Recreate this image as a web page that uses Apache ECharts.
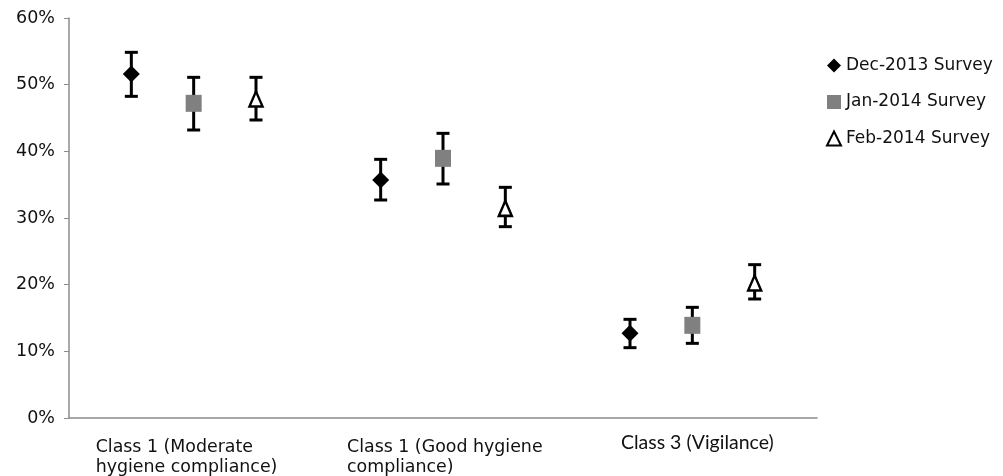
<!DOCTYPE html>
<html>
<head>
<meta charset="utf-8">
<script src="https://cdn.jsdelivr.net/npm/echarts@6/dist/echarts.min.js"></script>
<style>html,body{margin:0;padding:0;background:#fff;}#c{width:1003px;height:476px;}</style>
</head>
<body>
<div id="c"></div>
<script>
var categories = ['Class 1 (Moderate\nhygiene compliance)', 'Class 1 (Good hygiene\ncompliance)', 'Class 3 (Vigilance)'];
var seriesNames = ['Dec-2013 Survey', 'Jan-2014 Survey', 'Feb-2014 Survey'];
var decMean = [51.6, 35.7, 12.7];
var decLow  = [48.25, 32.7, 10.55];
var decHigh = [54.85, 38.8, 14.8];
var janMean = [47.2, 38.95, 13.9];
var janLow  = [43.2, 35.1, 11.2];
var janHigh = [51.1, 42.7, 16.6];
var febMean = [47.85, 31.45, 20.25];
var febLow  = [44.7, 28.7, 17.85];
var febHigh = [51.1, 34.6, 23.0];
var yTicks = [0, 10, 20, 30, 40, 50, 60];

var offsets = [-0.25, 0, 0.25];
function pts(mean, k) { return mean.map(function (v, i) { return [i + 0.5 + offsets[k], v]; }); }
function bars(lo, hi, k) { return lo.map(function (v, i) { return [i + 0.5 + offsets[k], v, hi[i]]; }); }

function renderErr(params, api) {
  var x = api.value(0), lo = api.value(1), hi = api.value(2);
  var a = api.coord([x, hi]), b = api.coord([x, lo]);
  var w = 6.5;
  var st = { stroke: '#000', lineWidth: 3 };
  return { type: 'group', children: [
    { type: 'line', shape: { x1: a[0], y1: a[1], x2: b[0], y2: b[1] }, style: st },
    { type: 'line', shape: { x1: a[0] - w, y1: a[1], x2: a[0] + w, y2: a[1] }, style: st },
    { type: 'line', shape: { x1: b[0] - w, y1: b[1], x2: b[0] + w, y2: b[1] }, style: st }
  ]};
}

var font = 'DejaVu Sans';
var chart = echarts.init(document.getElementById('c'));
chart.setOption({
  animation: false,
  grid: { left: 69, right: 186, top: 18, bottom: 58 },
  legend: {
    orient: 'vertical', left: 821, top: 52, itemWidth: 14, itemHeight: 14, itemGap: 19.5,
    textStyle: { fontFamily: font, fontSize: 17, color: '#111' },
    data: [
      { name: seriesNames[0], icon: 'diamond' },
      { name: seriesNames[1], icon: 'rect' },
      { name: seriesNames[2], icon: 'triangle' }
    ]
  },
  xAxis: [
    {
      type: 'category', data: categories, boundaryGap: true,
      axisLine: { lineStyle: { color: '#8c8c8c', width: 1.5 } },
      axisTick: { show: false },
      axisLabel: {
        interval: 0, margin: 19,
        formatter: function (v, i) {
          var lines = v.split('\n');
          var key = ['a', 'b', 'c'][i];
          return lines.map(function (l) { return '{' + key + '|' + l + '}'; }).join('\n');
        },
        rich: {
          a: { fontFamily: font, fontSize: 17.4, color: '#111', lineHeight: 20, width: 180, align: 'left', padding: [0, 16, 0, 0] },
          b: { fontFamily: font, fontSize: 17.4, color: '#111', lineHeight: 20, width: 196, align: 'left', padding: [0, 0, 0, 4] },
          c: { fontFamily: 'Lato', fontSize: 19.5, color: '#111', lineHeight: 12, padding: [0, 0, 0, 10] }
        }
      }
    },
    { type: 'value', min: 0, max: 3, show: false }
  ],
  yAxis: {
    type: 'value', min: 0, max: 60, interval: 10,
    axisLine: { show: true, lineStyle: { color: '#8c8c8c', width: 1.5 } },
    axisTick: { show: true, length: 5, lineStyle: { color: '#8c8c8c' } },
    splitLine: { show: false },
    axisLabel: { margin: 14, fontFamily: font, fontSize: 17.5, color: '#111',
      formatter: function (v) { return yTicks.indexOf(v) >= 0 ? v + '%' : ''; } }
  },
  series: [
    { type: 'custom', xAxisIndex: 1, renderItem: renderErr, data: bars(decLow, decHigh, 0), z: 1, silent: true },
    { type: 'custom', xAxisIndex: 1, renderItem: renderErr, data: bars(janLow, janHigh, 1), z: 1, silent: true },
    { type: 'custom', xAxisIndex: 1, renderItem: renderErr, data: bars(febLow, febHigh, 2), z: 1, silent: true },
    { name: seriesNames[0], type: 'scatter', xAxisIndex: 1, data: pts(decMean, 0), symbol: 'diamond', symbolSize: [17, 17],
      itemStyle: { color: '#000', opacity: 1 }, z: 3 },
    { name: seriesNames[1], type: 'scatter', xAxisIndex: 1, data: pts(janMean, 1), symbol: 'rect', symbolSize: [16, 17],
      itemStyle: { color: '#808080', opacity: 1 }, z: 3 },
    { name: seriesNames[2], type: 'scatter', xAxisIndex: 1, data: pts(febMean, 2), symbol: 'triangle', symbolSize: [13, 15],
      itemStyle: { color: '#fff', borderColor: '#000', borderWidth: 2.5, opacity: 1 }, z: 3 }
  ]
});
</script>
</body>
</html>
